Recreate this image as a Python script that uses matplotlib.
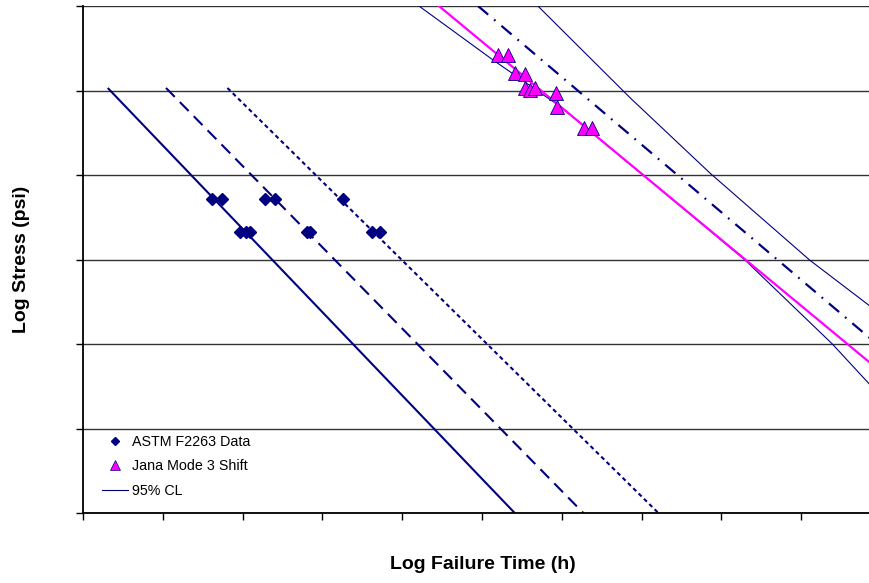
import numpy as np
import matplotlib
matplotlib.use('Agg')
import matplotlib.pyplot as plt
from matplotlib.lines import Line2D

plt.rcParams['font.family'] = ['Liberation Sans', 'DejaVu Sans']

# ASTM F2263 data (log time, log stress)
astm_x = [1.62, 1.74, 2.28, 2.41, 3.26, 1.97, 2.04, 2.09, 2.81, 2.85, 3.62, 3.72]
astm_y = [3.72, 3.72, 3.72, 3.72, 3.72, 3.32, 3.32, 3.32, 3.32, 3.32, 3.32, 3.32]

# Jana Mode 3 shifted data
jana_x = [5.20, 5.33, 5.41, 5.54, 5.54, 5.60, 5.66, 5.93, 5.94, 6.28, 6.38]
jana_y = [5.42, 5.42, 5.21, 5.20, 5.03, 5.01, 5.03, 4.97, 4.81, 4.56, 4.56]

# fitted lines (end points)
solid_x = [0.31, 5.41]
dash_x = [1.04, 6.27]
dot_x = [1.81, 7.21]
astm_line_y = [5.03, 0.0]

jana_fit_x = [4.46, 9.86]
jana_fit_y = [6.0, 1.78]
dashdot_x = [4.95, 9.86]
dashdot_y = [6.0, 2.07]

# 95% confidence limits
cl_low_x = [4.21, 5.14, 5.98, 7.02, 8.30, 9.39, 9.86]
cl_low_y = [6.00, 5.36, 4.81, 4.00, 2.99, 2.00, 1.52]
cl_up_x = [5.70, 6.86, 7.86, 9.11, 9.86]
cl_up_y = [6.00, 4.91, 4.02, 2.99, 2.45]

navy = '#000080'
pink = '#FF00FF'

fig = plt.figure(figsize=(8.7, 5.83), dpi=100)
ax = fig.add_axes([83/870, 70/583, 787/870, 507/583])

ax.set_xlim(0, 9.862)
ax.set_ylim(0, 6)
ax.set_xticks(range(0, 10))
ax.set_yticks(range(0, 7))
ax.set_xticklabels([])
ax.set_yticklabels([])
ax.tick_params(direction='out', length=5, width=1, color='black')
ax.yaxis.grid(True, color='#333333', linewidth=1)
for s in ['top', 'right']:
    ax.spines[s].set_visible(False)
ax.spines['left'].set_linewidth(1.3)
ax.spines['bottom'].set_linewidth(1.3)
ax.set_axisbelow(True)

ax.plot(solid_x, astm_line_y, color=navy, lw=1.5, solid_capstyle='butt')
ax.plot(dash_x, astm_line_y, color=navy, lw=1.5, dashes=(6, 3.5))
ax.plot(dot_x, astm_line_y, color=navy, lw=1.5, dashes=(2, 1.6))

ax.plot(cl_low_x, cl_low_y, color=navy, lw=0.8)
ax.plot(cl_up_x, cl_up_y, color=navy, lw=0.8)
ax.plot(dashdot_x, dashdot_y, color=navy, lw=1.6, dashes=(6, 3.5, 0.8, 3.5))
ax.plot(jana_fit_x, jana_fit_y, color=pink, lw=1.6)

ax.plot(astm_x, astm_y, 'D', color=navy, ms=6.5, ls='none')
ax.plot(jana_x, jana_y, '^', mfc=pink, mec=navy, mew=0.6, ms=10, ls='none')

handles = [
    Line2D([], [], marker='D', color=navy, ls='none', ms=4.5),
    Line2D([], [], marker='^', mfc=pink, mec=navy, mew=0.5, ls='none', ms=6.5),
    Line2D([], [], color=navy, lw=0.8),
]
labels = ['ASTM F2263 Data', 'Jana Mode 3 Shift', '95% CL']
ax.legend(handles, labels, loc='lower left', bbox_to_anchor=(0.008, 0.004),
          frameon=False, fontsize=10.3, handlelength=1.8, handletextpad=0.3,
          labelspacing=0.75)

ax.set_xlabel('Log Failure Time (h)', fontsize=14, fontweight='bold', labelpad=20)
ax.xaxis.set_label_coords(0.508, -0.085, transform=ax.transAxes)
ax.set_ylabel('Log Stress (psi)', fontsize=14, fontweight='bold', labelpad=30)

fig.savefig('out.png', dpi=100)
